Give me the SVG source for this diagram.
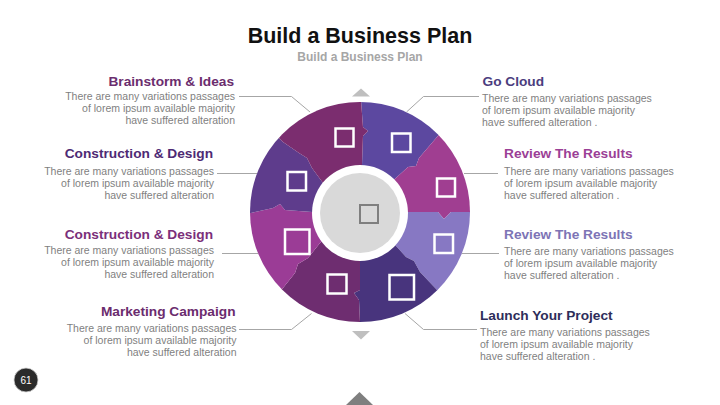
<svg xmlns="http://www.w3.org/2000/svg" width="720" height="405" viewBox="0 0 720 405">
<style>
.h{font-family:"Liberation Sans",Arial,sans-serif;font-weight:bold;font-size:13.7px}
.b{font-family:"Liberation Sans",Arial,sans-serif;font-size:10.5px;fill:#7f7f7f}
.r{text-anchor:end}
.sq{fill:none;stroke:#fff;stroke-width:2.5}
.cn{fill:none;stroke:#a6a6a6;stroke-width:1}
</style>
<defs>
<clipPath id="wc"><circle cx="360" cy="212" r="110"/></clipPath>
</defs>
<rect width="720" height="405" fill="#fff"/>
<g id="title">
<text x="360" y="43.3" text-anchor="middle" font-family="Liberation Sans,Arial,sans-serif" font-weight="bold" font-size="21.5" fill="#111">Build a Business Plan</text>
<text x="360" y="60.7" text-anchor="middle" font-family="Liberation Sans,Arial,sans-serif" font-weight="bold" font-size="12" fill="#a6a6a6">Build a Business Plan</text>
</g>
<g id="wheel">
<g clip-path="url(#wc)">
<polygon fill="#5c48a0" points="360,212 362,165 363,136 368,131 363,127 361,100 361,60 470,100 437,137 419,158 416,166 408,167 397,177"/>
<polygon fill="#a03e91" points="360,212 397,177 408,167 416,166 419,158 437,137 470,100 510,212 470,212 451,212 444,219 438,212 408,212"/>
<polygon fill="#8778c3" points="360,212 408,212 438,212 444,219 451,212 470,212 510,212 470,325 437,290 420,272 414,261 406,257 397,247"/>
<polygon fill="#48347d" points="360,212 397,247 406,257 414,261 420,272 437,290 470,325 360,360 360,322 359,300 354,293 360,290 360,260"/>
<polygon fill="#6e2d70" points="360,212 360,260 360,290 354,293 359,300 360,322 360,360 250,325 283,288 295,273 298,264 308,258 320,243"/>
<polygon fill="#9b3c96" points="360,212 320,243 308,258 298,264 295,273 283,288 250,325 210,213 251,213 273,208 280,204 285,210 312,212"/>
<polygon fill="#5e3c8c" points="360,212 312,212 285,210 280,204 273,208 251,213 210,213 250,110 283,142 299,153 307,158 312,168 323,183"/>
<polygon fill="#7b2d6f" points="360,212 323,183 312,168 307,158 299,153 283,142 250,110 361,60 361,100 363,127 368,131 363,136 362,165"/>
</g>
<circle cx="360" cy="213" r="48" fill="#fff"/>
<circle cx="360" cy="213" r="40" fill="#d9d9d9"/>
<rect x="360" y="205" width="18" height="18" fill="none" stroke="#7f7f7f" stroke-width="2"/>
<rect class="sq" x="335.5" y="128.5" width="18" height="18"/>
<rect class="sq" x="392" y="133.5" width="18.5" height="18.5"/>
<rect class="sq" x="437" y="178.5" width="18" height="18"/>
<rect class="sq" x="434.5" y="234.5" width="18.5" height="18.5"/>
<rect class="sq" x="389.5" y="275" width="24.5" height="24.5"/>
<rect class="sq" x="327.5" y="274.5" width="19" height="19"/>
<rect class="sq" x="285" y="229.5" width="24.5" height="24.5"/>
<rect class="sq" x="287.5" y="172" width="18.5" height="18.5"/>
<polygon fill="#bfbfbf" points="352,96.5 361,88.5 370,96.5"/>
<polygon fill="#bfbfbf" points="352,331 370,331 361,339.5"/>
</g>
<g id="connectors">
<polyline class="cn" points="239,96.5 291.5,96.5 310,112"/>
<polyline class="cn" points="479,96.5 423.5,96.5 406.5,112"/>
<line class="cn" x1="217" y1="173.5" x2="257" y2="173.5"/>
<line class="cn" x1="464" y1="173.5" x2="498" y2="173.5"/>
<line class="cn" x1="222" y1="253.5" x2="258" y2="253.5"/>
<line class="cn" x1="462" y1="253.5" x2="499" y2="253.5"/>
<polyline class="cn" points="239,329.5 291.5,329.5 311.5,313.5"/>
<polyline class="cn" points="477,329.5 423.5,329.5 405,313.5"/>
</g>
<g id="n-brainstorm">
<text class="h r" x="234" y="85.7" fill="#6b2d6e">Brainstorm &amp; Ideas</text>
<text class="b r" x="235" y="100">There are many variations passages</text>
<text class="b r" x="235" y="112">of lorem ipsum available majority</text>
<text class="b r" x="235" y="124">have suffered alteration</text>
</g>
<g id="n-construction1">
<text class="h r" x="213" y="157.7" fill="#4e2a74">Construction &amp; Design</text>
<text class="b r" x="214" y="174.5">There are many variations passages</text>
<text class="b r" x="214" y="186.5">of lorem ipsum available majority</text>
<text class="b r" x="214" y="198.5">have suffered alteration</text>
</g>
<g id="n-construction2">
<text class="h r" x="213" y="239" fill="#7b2f7a">Construction &amp; Design</text>
<text class="b r" x="214" y="253.5">There are many variations passages</text>
<text class="b r" x="214" y="265.5">of lorem ipsum available majority</text>
<text class="b r" x="214" y="277.5">have suffered alteration</text>
</g>
<g id="n-marketing">
<text class="h r" x="235.5" y="315.7" fill="#6b2c6e">Marketing Campaign</text>
<text class="b r" x="236.5" y="331.5">There are many variations passages</text>
<text class="b r" x="236.5" y="343.5">of lorem ipsum available majority</text>
<text class="b r" x="236.5" y="355.5">have suffered alteration</text>
</g>
<g id="n-gocloud">
<text class="h" x="482.5" y="85.7" fill="#4b3d7e">Go Cloud</text>
<text class="b" x="482" y="101.5">There are many variations passages</text>
<text class="b" x="482" y="113.5">of lorem ipsum available majority</text>
<text class="b" x="482" y="125.5">have suffered alteration .</text>
</g>
<g id="n-review1">
<text class="h" x="504" y="158.3" fill="#9b3f96">Review The Results</text>
<text class="b" x="504" y="174.5">There are many variations passages</text>
<text class="b" x="504" y="186.5">of lorem ipsum available majority</text>
<text class="b" x="504" y="198.5">have suffered alteration .</text>
</g>
<g id="n-review2">
<text class="h" x="504" y="239" fill="#7d74b5">Review The Results</text>
<text class="b" x="504" y="254.5">There are many variations passages</text>
<text class="b" x="504" y="266.5">of lorem ipsum available majority</text>
<text class="b" x="504" y="278.5">have suffered alteration .</text>
</g>
<g id="n-launch">
<text class="h" x="480" y="320" fill="#2e2d5a">Launch Your Project</text>
<text class="b" x="480" y="335.5">There are many variations passages</text>
<text class="b" x="480" y="347.5">of lorem ipsum available majority</text>
<text class="b" x="480" y="359.5">have suffered alteration .</text>
</g>
<g id="footer">
<circle cx="26" cy="380" r="12" fill="#2b2b2b" stroke="#d0d0d0" stroke-width="0.8"/>
<text x="26" y="383.5" text-anchor="middle" font-family="Liberation Sans,Arial,sans-serif" font-size="10" fill="#fff">61</text>
<polygon fill="#7f7f7f" points="346,405 359.5,392 373,405"/>
</g>
</svg>
